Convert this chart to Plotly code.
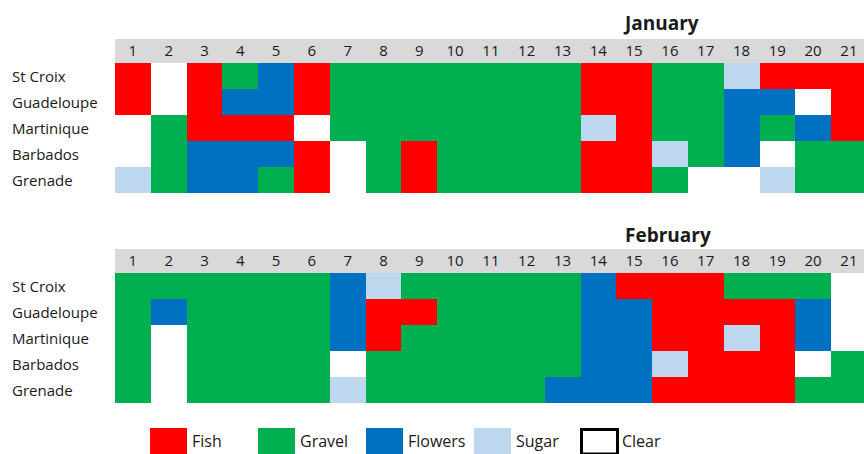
import plotly.graph_objects as go

# ---------------- data ----------------
categories = ["Fish", "Gravel", "Flowers", "Sugar", "Clear"]
cat_colors = ["#FF0000", "#00B050", "#0070C0", "#BDD7EE", "#FFFFFF"]
islands = ["St Croix", "Guadeloupe", "Martinique", "Barbados", "Grenade"]
days = list(range(1, 22))
months = ["January", "February"]

# codes: F=Fish, G=Gravel, W=Flowers, S=Sugar, C=Clear
jan_rows = [
    "F C F G W F G G G G G G G F F G G S F F F",   # St Croix
    "F C F W W F G G G G G G G F F G G W W C F",   # Guadeloupe
    "C G F F F C G G G G G G G S F G G W G W F",   # Martinique
    "C G W W W F C G F G G G G F F S G W C G G",   # Barbados
    "S G W W G F C G F G G G G F F G C C S G G",   # Grenade
]
feb_rows = [
    "G G G G G G W S G G G G G W F F F G G G C",   # St Croix
    "G W G G G G W F F G G G G W W F F F F W C",   # Guadeloupe
    "G C G G G G W F G G G G G W W F F S F W C",   # Martinique
    "G C G G G G C G G G G G G W W S F F F C G",   # Barbados
    "G C G G G G S G G G G G W W W F F F F G G",   # Grenade
]
code_map = {"F": 0, "G": 1, "W": 2, "S": 3, "C": 4}

# ---------------- layout constants ----------------
W, H = 864, 454
x_left = 115
col_w = 35.8
row_h = 26
hdr_h = 24
grid_tops = [63, 273]          # px from top where cell rows start
title_centers = [(661, 23), (668, 235)]
FONT = "Open Sans, Noto Sans, sans-serif"
TXT = "#1a1a1a"


def px_y(y):
    return 1 - y / H


def px_x(x):
    return x / W


colorscale = []
n = len(cat_colors)
for i, c in enumerate(cat_colors):
    colorscale.append([i / n, c])
    colorscale.append([(i + 1) / n, c])

fig = go.Figure()
shapes = []
annotations = []

for m, (rows, top) in enumerate(zip([jan_rows, feb_rows], grid_tops)):
    suffix = "" if m == 0 else str(m + 1)
    z = [[code_map[c] for c in r.split()] for r in rows]
    fig.add_trace(go.Heatmap(
        z=z, x=days, y=list(range(len(islands))),
        colorscale=colorscale, zmin=-0.5, zmax=n - 0.5,
        showscale=False, xaxis="x" + suffix, yaxis="y" + suffix,
        hoverinfo="skip",
    ))
    bottom = top + row_h * len(islands)
    xa = dict(
        domain=[px_x(x_left), 1],
        range=[0.5, 0.5 + (W - x_left) / col_w],
        side="top", tickvals=days, ticktext=[str(d) for d in days],
        tickfont=dict(family=FONT, size=15, color=TXT),
        ticks="", showgrid=False, zeroline=False, showline=False,
        ticklabelstandoff=3,
        anchor="y" + suffix, fixedrange=True,
    )
    ya = dict(
        domain=[px_y(bottom), px_y(top)],
        range=[len(islands) - 0.5, -0.5],
        showticklabels=False, ticks="", showgrid=False, zeroline=False,
        anchor="x" + suffix, fixedrange=True,
    )
    fig.update_layout(**{"xaxis" + suffix: xa, "yaxis" + suffix: ya})

    # gray header band
    shapes.append(dict(
        type="rect", xref="paper", yref="paper",
        x0=px_x(x_left), x1=1, y0=px_y(top), y1=px_y(top - hdr_h),
        fillcolor="#D9D9D9", line=dict(width=0), layer="below",
    ))
    # row labels
    for i, name in enumerate(islands):
        annotations.append(dict(
            text=name, xref="paper", yref="y" + suffix,
            x=px_x(10), y=i, xanchor="left", yanchor="middle",
            showarrow=False, font=dict(family=FONT, size=15, color=TXT),
        ))
    # month title
    tx, ty = title_centers[m]
    annotations.append(dict(
        text="<b>" + months[m] + "</b>", xref="paper", yref="paper",
        x=px_x(tx), y=px_y(ty), xanchor="center", yanchor="middle",
        showarrow=False, font=dict(family=FONT, size=19, color=TXT),
    ))

# ---------------- legend ----------------
leg_x0 = [150, 258, 366, 474, 580]
sw_w, sw_top, sw_bot = 37, 428, 456
for cat, col, lx in zip(categories, cat_colors, leg_x0):
    is_clear = cat == "Clear"
    shapes.append(dict(
        type="rect", xref="paper", yref="paper",
        x0=px_x(lx + (1.5 if is_clear else 0)), x1=px_x(lx + sw_w + (0.5 if is_clear else 0)),
        y0=px_y(sw_bot - (2 if is_clear else 0)), y1=px_y(sw_top + (1.5 if is_clear else 0)),
        fillcolor=col,
        line=dict(width=3 if is_clear else 0, color="black"),
    ))
    annotations.append(dict(
        text=cat, xref="paper", yref="paper",
        x=px_x(lx + sw_w + 3), y=px_y(441), xanchor="left", yanchor="middle",
        showarrow=False, font=dict(family=FONT, size=16, color=TXT),
    ))

fig.update_layout(
    width=W, height=H,
    margin=dict(l=0, r=0, t=0, b=0),
    paper_bgcolor="white", plot_bgcolor="white",
    shapes=shapes, annotations=annotations,
    showlegend=False,
)

fig.write_html(
    "out.html",
    config={"displayModeBar": False},
    post_script="document.body.style.margin='0';document.body.style.overflow='hidden';",
)
